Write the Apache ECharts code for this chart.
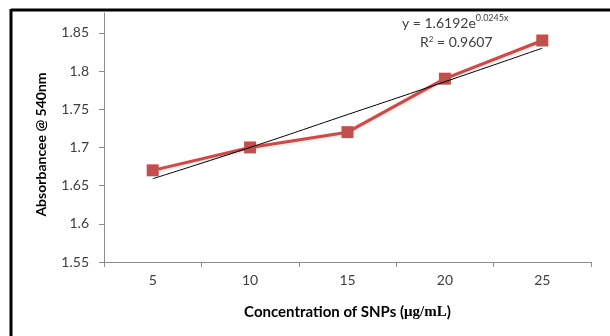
<!DOCTYPE html>
<html>
<head>
<meta charset="utf-8">
<script src="https://cdn.jsdelivr.net/npm/echarts@6/dist/echarts.min.js"></script>
<style>
html,body{margin:0;padding:0;background:#fff;}
#chart{width:610px;height:336px;}
</style>
</head>
<body>
<div id="chart"></div>
<script>
const categories = ['5', '10', '15', '20', '25'];
const absorbance = [1.67, 1.70, 1.72, 1.79, 1.84];
const trendValues = [1.659, 1.700, 1.743, 1.786, 1.830];
const yTicks = [1.55, 1.6, 1.65, 1.7, 1.75, 1.8, 1.85];
const yMin = 1.55;
const yMax = 1.876;

const font = 'Lato, "Open Sans", sans-serif';
const chart = echarts.init(document.getElementById('chart'), null, {renderer: 'canvas'});
chart.setOption({
  animation: false,
  backgroundColor: '#ffffff',
  grid: {left: 104, right: 19, top: 13, bottom: 74, containLabel: false},
  xAxis: {
    type: 'category',
    data: categories,
    boundaryGap: true,
    axisLine: {lineStyle: {color: '#8c8c8c', width: 1}},
    axisTick: {show: true, alignWithLabel: false, length: 5, lineStyle: {color: '#8c8c8c'}},
    axisLabel: {color: '#404040', fontSize: 14, fontFamily: font, margin: 11},
    splitLine: {show: false},
    name: '{a|Concentration of SNPs (}{b|μg/mL}{a|)}',
    nameLocation: 'middle',
    nameGap: 43,
    nameTextStyle: {
      rich: {
        a: {fontSize: 15, fontWeight: 'bold', fontFamily: font, color: '#000'},
        b: {fontSize: 15, fontWeight: 'bold', fontFamily: '"Liberation Serif", serif', color: '#000'}
      }
    }
  },
  yAxis: {
    type: 'value',
    min: yMin,
    max: yMax,
    axisLine: {show: true, lineStyle: {color: '#8c8c8c', width: 1}},
    axisTick: {show: true, length: 5, customValues: yTicks, lineStyle: {color: '#8c8c8c'}},
    axisLabel: {customValues: yTicks, color: '#404040', fontSize: 14, fontFamily: font, margin: 15,
      formatter: v => String(Math.round(v * 100) / 100)},
    splitLine: {show: false},
    name: 'Absorbancee @ 540nm',
    nameLocation: 'middle',
    nameGap: 56,
    nameRotate: 90,
    nameTextStyle: {fontSize: 14, fontWeight: 'bold', fontFamily: font, color: '#000', padding: [0, 14, 0, 0]}
  },
  series: [
    {
      type: 'line',
      data: absorbance,
      symbol: 'rect',
      symbolSize: 12,
      lineStyle: {color: '#C0504D', width: 3, shadowColor: 'rgba(192,80,77,0.35)', shadowBlur: 3, shadowOffsetY: 1},
      itemStyle: {color: '#C0504D'},
      z: 2
    },
    {
      type: 'line',
      data: trendValues,
      smooth: true,
      symbol: 'none',
      lineStyle: {color: '#000000', width: 1},
      z: 3
    }
  ],
  graphic: [
    {type: 'line', shape: {x1: 11, y1: 10, x2: 610, y2: 10}, style: {stroke: '#000', lineWidth: 3}},
    {type: 'line', shape: {x1: 11, y1: 9, x2: 11, y2: 336}, style: {stroke: '#000', lineWidth: 3}},
    {type: 'text', left: 402, top: 14, style: {
      text: '{m|y = 1.6192e}{s|0.0245x}',
      rich: {
        m: {fontSize: 14, fontFamily: font, fill: '#404040', verticalAlign: 'bottom'},
        s: {fontSize: 9, fontFamily: font, fill: '#404040', verticalAlign: 'top', padding: [0, 0, 7, 0]}
      }
    }},
    {type: 'text', left: 420, top: 35, style: {
      text: '{m|R}{s|2}{m| = 0.9607}',
      rich: {
        m: {fontSize: 14, fontFamily: font, fill: '#404040'},
        s: {fontSize: 8, fontFamily: font, fill: '#404040', padding: [0, 0, 6, 0]}
      }
    }}
  ]
});
</script>
</body>
</html>
